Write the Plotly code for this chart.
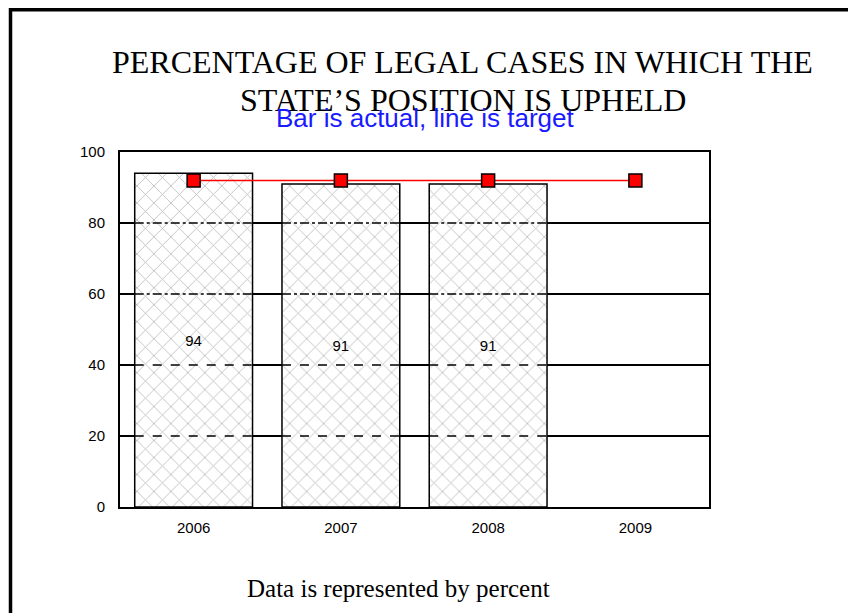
import plotly.graph_objects as go

years = ['2006', '2007', '2008', '2009']
actual = [94, 91, 91, None]
target = [92, 92, 92, 92]
y_ticks = [0, 20, 40, 60, 80, 100]

# page body adds an 8px margin, so the figure is drawn 8px in from the window edge
OFF = 8
W, H = 856 - OFF, 613 - OFF
PLOT_L, PLOT_R, PLOT_T, PLOT_B = 120, 709, 152, 507   # plot area in window pixels
ML, MR, MT, MB = PLOT_L - OFF, 856 - PLOT_R, PLOT_T - OFF, 613 - PLOT_B
PW, PH = PLOT_R - PLOT_L, PLOT_B - PLOT_T


def px_x(p):
    return (p - PLOT_L) / PW


def px_y(p):
    return (PLOT_B - p) / PH


fig = go.Figure()

fig.add_trace(go.Bar(
    x=years, y=actual,
    marker=dict(
        color='white',
        line=dict(color='black', width=1.5),
        pattern=dict(shape='x', size=12, solidity=0.14, fgcolor='#bdbdbd', bgcolor='white', fillmode='replace'),
    ),
    text=[str(v) if v is not None else '' for v in actual],
    textposition='inside', insidetextanchor='middle', textangle=0,
    textfont=dict(family='Liberation Sans', size=15, color='black'),
    showlegend=False, hoverinfo='skip',
))

fig.add_trace(go.Scatter(
    x=years, y=target, mode='lines+markers',
    line=dict(color='#ff0000', width=1.5),
    marker=dict(symbol='square', size=13, color='#ff0000', line=dict(color='black', width=1.5)),
    showlegend=False,
))

# dashed look of the grid where it crosses the hatched bars
shapes = []
for i, v in enumerate(actual):
    if v is None:
        continue
    for g in y_ticks[1:-1]:
        if g < v:
            shapes.append(dict(type='line', xref='x', yref='y', x0=i - 0.4, x1=i + 0.4, y0=g, y1=g,
                               line=dict(color='black', width=1.5, dash='dashdot' if g >= 60 else 'dash'),
                               layer='above'))

# slide border (top and left edges)
shapes.append(dict(type='line', xref='paper', yref='paper', x0=px_x(9), x1=px_x(853), y0=px_y(9.8), y1=px_y(9.8),
                   line=dict(color='black', width=3.5)))
shapes.append(dict(type='line', xref='paper', yref='paper', x0=px_x(10.5), x1=px_x(10.5), y0=px_y(8), y1=px_y(620),
                   line=dict(color='black', width=3.5)))

annotations = [
    dict(text='PERCENTAGE OF LEGAL CASES IN WHICH THE', xref='paper', yref='paper', x=px_x(462), y=px_y(62),
         showarrow=False, font=dict(family='Liberation Serif', size=32, color='black'), xanchor='center', yanchor='middle'),
    dict(text='STATE\u2019S POSITION IS UPHELD', xref='paper', yref='paper', x=px_x(463), y=px_y(100),
         showarrow=False, font=dict(family='Liberation Serif', size=32, color='black'), xanchor='center', yanchor='middle'),
    dict(text='Bar is actual, line is target', xref='paper', yref='paper', x=px_x(425), y=px_y(118),
         showarrow=False, font=dict(family='Liberation Sans', size=26, color='#1a1aff'), xanchor='center', yanchor='middle'),
    dict(text='Data is represented by percent', xref='paper', yref='paper', x=px_x(398), y=px_y(588),
         showarrow=False, font=dict(family='Liberation Serif', size=25, color='black'), xanchor='center', yanchor='middle'),
]

fig.update_layout(
    width=W, height=H,
    margin=dict(l=ML, r=MR, t=MT, b=MB),
    paper_bgcolor='white', plot_bgcolor='white',
    bargap=0.2,
    shapes=shapes,
    annotations=annotations,
    xaxis=dict(
        type='category',
        showline=True, mirror=True, linecolor='black', linewidth=2,
        showgrid=False, ticks='',
        tickfont=dict(family='Liberation Sans', size=15, color='black'),
        ticklabelstandoff=6,
    ),
    yaxis=dict(
        range=[0, 100], tickvals=y_ticks,
        showline=True, mirror=True, linecolor='black', linewidth=2,
        showgrid=True, gridcolor='black', gridwidth=1.5,
        zeroline=False, ticks='',
        tickfont=dict(family='Liberation Sans', size=15, color='black'),
        ticklabelstandoff=10,
    ),
)

fig.write_html('out.html')
